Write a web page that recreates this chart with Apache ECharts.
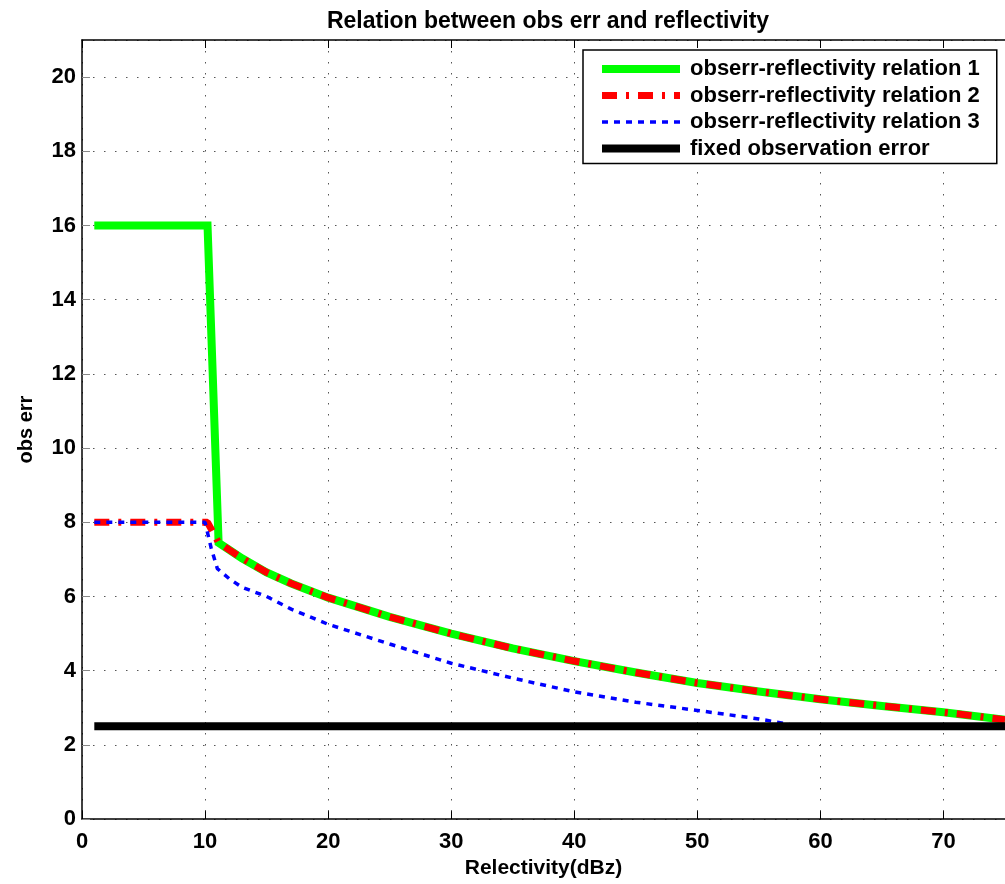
<!DOCTYPE html>
<html>
<head>
<meta charset="utf-8">
<script src="https://cdn.jsdelivr.net/npm/echarts@6/dist/echarts.min.js"></script>
<style>
html,body{margin:0;padding:0;background:#fff;}
#chart{width:1005px;height:884px;}
</style>
</head>
<body>
<div id="chart"></div>
<script>
// ---- data ----
const titleText = 'Relation between obs err and reflectivity';
const xName = 'Relectivity(dBz)';
const yName = 'obs err';
const seriesNames = [
  'obserr-reflectivity relation 1',
  'obserr-reflectivity relation 2',
  'obserr-reflectivity relation 3',
  'fixed observation error'
];

const x1 = [1, 10.2, 11.1, 12, 13, 15, 17, 20, 25, 30, 35, 40, 45, 50, 55, 60, 65, 70, 75];
const y1 = [16, 16, 7.45, 7.25, 7.03, 6.65, 6.35, 5.97, 5.45, 5.0, 4.6, 4.26, 3.95, 3.67, 3.44, 3.23, 3.05, 2.88, 2.68];

const x2 = [1, 10.2, 11.1, 12, 13, 15, 17, 20, 25, 30, 35, 40, 45, 50, 55, 60, 65, 70, 75];
const y2 = [8, 8, 7.45, 7.25, 7.03, 6.65, 6.35, 5.97, 5.45, 5.0, 4.6, 4.26, 3.95, 3.67, 3.44, 3.23, 3.05, 2.88, 2.68];

const x3 = [1, 10, 10.5, 11, 12, 13, 15, 17, 20, 25, 30, 35, 40, 45, 50, 55, 58, 60, 75];
const y3 = [8, 8, 7.3, 6.75, 6.47, 6.25, 6.0, 5.66, 5.25, 4.72, 4.2, 3.8, 3.43, 3.15, 2.93, 2.7, 2.52, 2.5, 2.5];

const x4 = [1, 75];
const y4 = [2.5, 2.5];

const xMin = 0, xMax = 75, xInterval = 10;
const yMin = 0, yMax = 21, yInterval = 2;

// ---- chart ----
const pairs = (xs, ys) => xs.map((x, i) => [x, ys[i]]);
const font = '"Liberation Sans", Arial, Helvetica, sans-serif';
const gridDots = { color: '#555', width: 1, type: [1.5, 9.5] };
const colors = ['#00ff00', '#ff0000', '#0000ff', '#000000'];

const chart = echarts.init(document.getElementById('chart'), null, { renderer: 'canvas' });
chart.setOption({
  animation: false,
  backgroundColor: '#fff',
  color: colors,
  title: {
    text: titleText,
    left: 543,
    top: 5,
    textAlign: 'center',
    textStyle: { fontFamily: font, fontSize: 23, fontWeight: 'bold', color: '#000' }
  },
  grid: { left: 82, right: -1, top: 40, bottom: 61, containLabel: false },
  legend: {
    orient: 'vertical',
    left: 583,
    top: 50,
    data: seriesNames,
    itemWidth: 78,
    itemHeight: 14,
    itemGap: 4.5,
    padding: [8, 17, 4, 15],
    backgroundColor: '#fff',
    borderColor: '#000',
    borderWidth: 1.5,
    borderRadius: 0,
    itemStyle: { opacity: 0, borderWidth: 0 },
    lineStyle: { width: 'inherit' },
    textStyle: { fontFamily: font, fontSize: 22, fontWeight: 'bold', color: '#000', padding: [0, 0, 0, 5] }
  },
  xAxis: [{
    type: 'value',
    min: xMin, max: xMax, interval: xInterval,
    name: xName,
    nameLocation: 'middle',
    nameGap: 35,
    nameTextStyle: { fontFamily: font, fontSize: 21, fontWeight: 'bold', color: '#000' },
    axisLine: { show: true, onZero: false, lineStyle: { color: '#000', width: 1.5 } },
    axisTick: { show: true, inside: true, length: 8, lineStyle: { color: '#000' } },
    axisLabel: { fontFamily: font, fontSize: 22, fontWeight: 'bold', color: '#000', margin: 12, showMaxLabel: false },
    splitLine: { show: true, lineStyle: gridDots }
  }, {
    type: 'value',
    position: 'top',
    min: xMin, max: xMax, interval: xInterval,
    axisLine: { show: true, onZero: false, lineStyle: { color: '#000', width: 1.5 } },
    axisTick: { show: true, inside: true, length: 8, lineStyle: { color: '#000' } },
    axisLabel: { show: false },
    splitLine: { show: false }
  }],
  yAxis: [{
    type: 'value',
    min: yMin, max: yMax, interval: yInterval,
    name: yName,
    nameLocation: 'middle',
    nameGap: 46,
    nameRotate: 90,
    nameTextStyle: { fontFamily: font, fontSize: 20, fontWeight: 'bold', color: '#000' },
    axisLine: { show: true, onZero: false, lineStyle: { color: '#000', width: 1.5 } },
    axisTick: { show: true, inside: true, length: 8, lineStyle: { color: '#888' } },
    axisLabel: { fontFamily: font, fontSize: 22, fontWeight: 'bold', color: '#000', margin: 6, showMaxLabel: false },
    splitLine: { show: true, lineStyle: gridDots }
  }],
  series: [
    {
      name: seriesNames[0], type: 'line', data: pairs(x1, y1),
      showSymbol: false, symbol: 'none', symbolSize: 0, z: 2,
      itemStyle: { color: colors[0] },
      lineStyle: { color: colors[0], width: 8, type: 'solid', join: 'miter' }
    },
    {
      name: seriesNames[1], type: 'line', data: pairs(x2, y2),
      showSymbol: false, symbol: 'none', symbolSize: 0, z: 3,
      itemStyle: { color: colors[1] },
      lineStyle: { color: colors[1], width: 7, type: [15, 9, 3, 9], cap: 'butt' }
    },
    {
      name: seriesNames[2], type: 'line', data: pairs(x3, y3),
      showSymbol: false, symbol: 'none', symbolSize: 0, z: 4,
      itemStyle: { color: colors[2] },
      lineStyle: { color: colors[2], width: 3.5, type: [6, 6], cap: 'butt' }
    },
    {
      name: seriesNames[3], type: 'line', data: pairs(x4, y4),
      showSymbol: false, symbol: 'none', symbolSize: 0, z: 5,
      itemStyle: { color: colors[3] },
      lineStyle: { color: colors[3], width: 8, type: 'solid' }
    }
  ]
});
</script>
</body>
</html>
